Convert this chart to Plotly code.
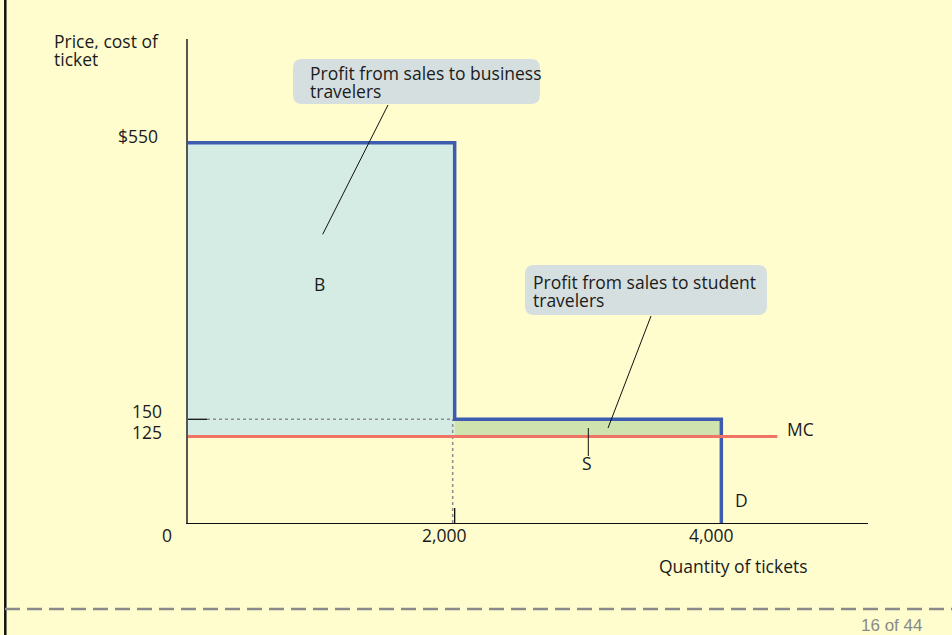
import plotly.graph_objects as go

# ---------------- data ----------------
segment_names = ["Business travelers", "Student travelers"]
segment_qty_start = [0, 2000]
segment_qty_end = [2000, 4000]
segment_price = [550, 150]
segment_labels = ["B", "S"]
marginal_cost = 125
mc_qty_end = 4420
x_tick_values = [0, 2000, 4000]
x_tick_labels = ["0", "2,000", "4,000"]
y_tick_values = [550, 150, 125]
y_tick_labels = ["$550", "150", "125"]

# ---------------- layout geometry ----------------
X_MAX, Y_MAX = 5100, 700
W, H = 952, 635
ML, MR, MT, MB = 188, 84, 39, 112
PW = W - ML - MR
PH = H - MT - MB
XU = X_MAX / PW   # data units per pixel
YU = Y_MAX / PH


def px(p):
    return (p - ML) / PW


def py(p):
    return (H - MB - p) / PH


BG = "#FFFDCE"
FONT = "Open Sans"
TXT = "#1b1b1b"
FS = 17.5
fill_colors = ["#D5ECE5", "#CEE3AD"]
BLUE = "#3D5CB0"
RED = "#EF7466"
GUIDE = "#8C8C8C"

fig = go.Figure()

# profit areas
for s, e, p, c, n in zip(segment_qty_start, segment_qty_end, segment_price, fill_colors, segment_names):
    fig.add_trace(go.Scatter(
        x=[s, e, e, s, s], y=[marginal_cost, marginal_cost, p, p, marginal_cost],
        fill="toself", fillcolor=c, mode="lines", line=dict(width=0),
        name=n, hoverinfo="skip", showlegend=False))

knee_q = segment_qty_end[0]
knee_p = segment_price[1]

# guide lines / ticks
fig.add_trace(go.Scatter(x=[19 * XU, knee_q + 5 * XU], y=[knee_p, knee_p], mode="lines",
                         line=dict(color=GUIDE, width=1.5, dash="dot"), hoverinfo="skip", showlegend=False))
fig.add_trace(go.Scatter(x=[knee_q - 2 * XU, knee_q - 2 * XU], y=[0, knee_p], mode="lines",
                         line=dict(color=GUIDE, width=1.5, dash="dot"), hoverinfo="skip", showlegend=False))
fig.add_trace(go.Scatter(x=[0, 19 * XU], y=[knee_p, knee_p], mode="lines",
                         line=dict(color="#111111", width=1.3), hoverinfo="skip", showlegend=False))
fig.add_trace(go.Scatter(x=[knee_q, knee_q], y=[0, 15 * YU], mode="lines",
                         line=dict(color="#111111", width=1.3), hoverinfo="skip", showlegend=False))

# demand step curve
dx, dy = [], []
for s, e, p in zip(segment_qty_start, segment_qty_end, segment_price):
    dx += [s, e]
    dy += [p, p]
dx.append(segment_qty_end[-1])
dy.append(0)
fig.add_trace(go.Scatter(x=dx, y=dy, mode="lines", line=dict(color=BLUE, width=3.5),
                         name="D", hoverinfo="skip", showlegend=False))

# marginal cost
fig.add_trace(go.Scatter(x=[0, mc_qty_end], y=[marginal_cost, marginal_cost], mode="lines",
                         line=dict(color=RED, width=3), name="MC", hoverinfo="skip", showlegend=False))

annotations = []


def ann(text, x, y, xanchor="center", xref="paper", yref="paper", xshift=0, yshift=0,
        size=FS, color=TXT, family=FONT, height=None):
    a = dict(text=text, x=x, y=y, xref=xref, yref=yref, xanchor=xanchor,
             yanchor="middle", xshift=xshift, yshift=yshift, showarrow=False,
             font=dict(family=family, size=size, color=color))
    if height:
        a["height"] = height
        a["borderpad"] = 0
    annotations.append(a)


# tick labels
x_label_shift = {0: -21, 2000: -10, 4000: -10}
for v, lab in zip(x_tick_values, x_tick_labels):
    ann(lab, v, py(534.5), xref="x", xshift=x_label_shift[v])

y_label_pos = {550: (158.5, 6.7), 150: (163, 8), 125: (163, 4.5)}
for v, lab in zip(y_tick_values, y_tick_labels):
    xp, ys = y_label_pos[v]
    ann(lab, px(xp), v, xanchor="right", yref="y", yshift=ys, height=18)

# axis titles
ann("Price, cost of", px(53), py(40.5), xanchor="left", height=17)
ann("ticket", px(53), py(58.7), xanchor="left", height=17)
ann("Quantity of tickets", px(733), py(566))

# region / curve labels
ann(segment_labels[0], px(319.5), py(283.5))
ann(segment_labels[1], px(587), py(462.5))
ann("D", px(741.5), py(499.5))
ann("MC", px(800), py(429))

# callout texts
ann("Profit from sales to business", px(309), py(72), xanchor="left", height=17)
ann("travelers", px(309), py(90), xanchor="left", height=17)
ann("Profit from sales to student", px(532), py(281), xanchor="left", height=17)
ann("travelers", px(532), py(299), xanchor="left", height=17)

# page number
ann("16 of 44", px(924), py(625), xanchor="right", size=17, color="#8A8A8A",
    family="Liberation Sans, Arial")

shapes = []


def rrect(x0, y0, x1, y1, r, color):
    pts = [
        ("M", [(x0 + r, y0)]), ("L", [(x1 - r, y0)]), ("Q", [(x1, y0), (x1, y0 + r)]),
        ("L", [(x1, y1 - r)]), ("Q", [(x1, y1), (x1 - r, y1)]), ("L", [(x0 + r, y1)]),
        ("Q", [(x0, y1), (x0, y1 - r)]), ("L", [(x0, y0 + r)]), ("Q", [(x0, y0), (x0 + r, y0)]),
    ]
    path = ""
    for cmd, ps in pts:
        path += cmd + " " + " ".join(f"{px(a):.5f},{py(b):.5f}" for a, b in ps) + " "
    path += "Z"
    shapes.append(dict(type="path", path=path, xref="paper", yref="paper",
                       fillcolor=color, line=dict(width=0), layer="above"))


def pline(x0, y0, x1, y1, color="#111111", width=1, dash=None):
    ln = dict(color=color, width=width)
    if dash:
        ln["dash"] = dash
    shapes.append(dict(type="line", xref="paper", yref="paper",
                       x0=px(x0), y0=py(y0), x1=px(x1), y1=py(y1), line=ln, layer="above"))


rrect(293, 59, 540, 104, 9, "#D6DFDF")
rrect(525, 265, 767, 315, 9, "#D6DFDF")

# pointers
pline(388, 105, 322.7, 234.3)
pline(651, 316, 608, 428)
pline(588.3, 428, 588.3, 456)

# slide decorations
pline(5.3, 0, 5.3, 635, color="#111111", width=2.5)
pline(5, 609, 952, 609, color="#8A8A8A", width=2.5, dash="15px,7px")

fig.update_layout(
    width=W, height=H,
    margin=dict(l=ML, r=MR, t=MT, b=MB, pad=0),
    paper_bgcolor=BG, plot_bgcolor=BG,
    showlegend=False,
    xaxis=dict(range=[0, X_MAX], showgrid=False, zeroline=False, showticklabels=False,
               ticks="", showline=True, linecolor="#111111", linewidth=1, fixedrange=True),
    yaxis=dict(range=[0, Y_MAX], showgrid=False, zeroline=False, showticklabels=False,
               ticks="", showline=True, linecolor="#555555", linewidth=1.5, fixedrange=True),
    annotations=annotations,
    shapes=shapes,
    font=dict(family=FONT, size=FS, color=TXT),
)

fig.write_html(
    "out.html",
    config={"displayModeBar": False},
    post_script="document.body.style.margin='0px';document.body.style.overflow='hidden';"
                "document.documentElement.style.background='" + BG + "';",
)
